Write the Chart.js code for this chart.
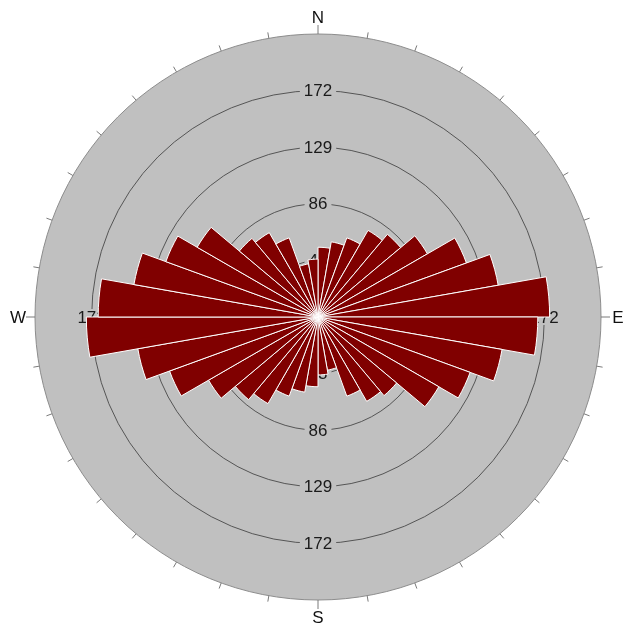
<!DOCTYPE html>
<html>
<head>
<meta charset="utf-8">
<title>Rose diagram</title>
<script src="https://cdn.jsdelivr.net/npm/chart.js@4.4.1/dist/chart.umd.min.js"></script>
<style>
  html, body { margin: 0; padding: 0; background: #ffffff; }
  #wrap { width: 625px; height: 628px; }
</style>
</head>
<body>
<div id="wrap"><canvas id="rose" width="625" height="628"></canvas></div>
<script>
// Azimuth of each 10° sector start, clockwise from north
const sectorStart = [0, 10, 20, 30, 40, 50, 60, 70, 80, 90, 100, 110, 120, 130, 140, 150, 160, 170,
                     180, 190, 200, 210, 220, 230, 240, 250, 260, 270, 280, 290, 300, 310, 320, 330, 340, 350];
// Count per sector (bidirectional data, so opposite sectors match)
const sectorCount = [53, 58, 64, 76, 82, 96, 120, 139, 176, 167, 142, 123, 106, 78, 74, 64, 41, 44,
                     53, 58, 64, 76, 82, 96, 120, 139, 176, 167, 142, 123, 106, 78, 74, 64, 41, 44];
// Ring values and the outer limit of the radial axis
const ringValues = [43, 86, 129, 172];
const axisMax = 215;
const ringStep = 43;
// Compass letters, clockwise from north
const compassLetters = ['N', 'E', 'S', 'W'];

const FONT = '"Liberation Sans", Arial, sans-serif';

const rosePlugin = {
  id: 'roseDecor',
  beforeDraw(chart) {
    const r = chart.scales.r;
    const ctx = chart.ctx;
    ctx.save();
    ctx.beginPath();
    ctx.arc(r.xCenter, r.yCenter, r.drawingArea, 0, Math.PI * 2);
    ctx.fillStyle = '#c0c0c0';
    ctx.fill();
    ctx.restore();
  },
  beforeDatasetsDraw(chart) {
    // ring labels on the four axis directions, beneath the petals
    const r = chart.scales.r;
    const ctx = chart.ctx;
    ctx.save();
    ctx.font = '17px ' + FONT;
    ctx.textAlign = 'center';
    ctx.textBaseline = 'middle';
    ringValues.forEach(v => {
      const d = r.getDistanceFromCenterForValue(v);
      const txt = String(v);
      const w = ctx.measureText(txt).width;
      const spots = [
        [r.xCenter, r.yCenter - d],
        [r.xCenter, r.yCenter + d],
        [r.xCenter + d, r.yCenter],
        [r.xCenter - d, r.yCenter]
      ];
      spots.forEach(([x, y]) => {
        ctx.fillStyle = '#c0c0c0';
        ctx.fillRect(x - w / 2 - 4, y - 8, w + 8, 16);
        ctx.fillStyle = '#1a1a1a';
        ctx.fillText(txt, x, y + 1);
      });
    });
    ctx.restore();
  },
  afterDraw(chart) {
    const r = chart.scales.r;
    const ctx = chart.ctx;
    const R = r.drawingArea;
    ctx.save();
    // outer tick marks every 10°
    ctx.strokeStyle = '#7a7a7a';
    ctx.lineWidth = 1;
    for (let a = 0; a < 360; a += 10) {
      const t = (a - 90) * Math.PI / 180;
      const len = (a % 90 === 0) ? 9 : 6;
      ctx.beginPath();
      ctx.moveTo(r.xCenter + Math.cos(t) * R, r.yCenter + Math.sin(t) * R);
      ctx.lineTo(r.xCenter + Math.cos(t) * (R + len), r.yCenter + Math.sin(t) * (R + len));
      ctx.stroke();
    }
    // compass letters
    ctx.font = '17px ' + FONT;
    ctx.fillStyle = '#111111';
    ctx.textAlign = 'center';
    ctx.textBaseline = 'middle';
    compassLetters.forEach((L, i) => {
      const t = (i * 90 - 90) * Math.PI / 180;
      const d = R + 17;
      ctx.fillText(L, r.xCenter + Math.cos(t) * d, r.yCenter + Math.sin(t) * d + 1);
    });
    ctx.restore();
  }
};

new Chart(document.getElementById('rose').getContext('2d'), {
  type: 'polarArea',
  data: {
    labels: sectorStart.map(a => a + '°'),
    datasets: [{
      data: sectorCount,
      backgroundColor: '#800000',
      borderColor: '#ffffff',
      borderWidth: 1
    }]
  },
  options: {
    responsive: false,
    animation: false,
    startAngle: 0,
    layout: { padding: { left: 35, right: 24, top: 34, bottom: 28 } },
    plugins: {
      legend: { display: false },
      tooltip: { enabled: false }
    },
    scales: {
      r: {
        min: 0,
        max: axisMax,
        ticks: { display: false, stepSize: ringStep },
        grid: {
          circular: true,
          color: c => (c.tick && c.tick.value === axisMax) ? '#8c8c8c' : '#555555',
          lineWidth: 1
        },
        angleLines: { display: false },
        pointLabels: { display: false }
      }
    }
  },
  plugins: [rosePlugin]
});
</script>
</body>
</html>
